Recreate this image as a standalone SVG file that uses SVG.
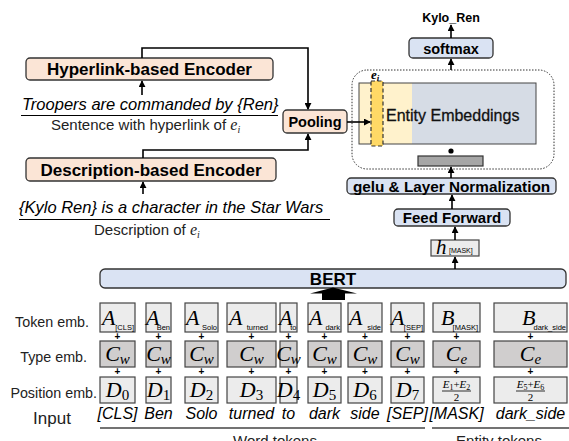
<svg xmlns="http://www.w3.org/2000/svg" width="569" height="441" viewBox="0 0 569 441">
<defs>
<marker id="ah" viewBox="0 0 8 8" refX="7" refY="4" markerWidth="7" markerHeight="7" markerUnits="userSpaceOnUse" orient="auto">
<path d="M0,0 L8,4 L0,8 z" fill="#000"/>
</marker>
</defs>
<style>
.sans{font-family:"Liberation Sans",Arial,sans-serif}
.b{font-weight:bold}
.it{font-style:italic}
.math{font-family:"Liberation Serif","Times New Roman",serif;font-style:italic}
.peach{fill:#fbe5d6;stroke:#333;stroke-width:1.3}
.blue{fill:#dae3f3;stroke:#333;stroke-width:1.3}
.tok{fill:#ececec;stroke:#444;stroke-width:1.2}
.typ{fill:#d0cece;stroke:#444;stroke-width:1.2}
.arr{fill:none;stroke:#000;stroke-width:1.6;marker-end:url(#ah)}
.lbl{font-family:"Liberation Sans",Arial,sans-serif;font-size:14.3px;fill:#222}
.plus{font-family:"Liberation Sans",Arial,sans-serif;font-size:10px;font-weight:bold;text-anchor:middle}
.A{font-family:"Liberation Serif",serif;font-style:italic;font-size:22px}
.sub{font-family:"Liberation Sans",Arial,sans-serif;font-size:7.5px;text-anchor:end}
.C{font-family:"Liberation Serif",serif;font-style:italic;font-size:22px;text-anchor:middle}
.inp{font-family:"Liberation Sans",Arial,sans-serif;font-style:italic;font-size:16px;text-anchor:middle}
</style>

<g id="hyperlink-encoder">
<rect class="peach" x="26" y="58" width="247" height="22" rx="4"/>
<text class="sans b" x="149.5" y="75" font-size="17" text-anchor="middle">Hyperlink-based Encoder</text>
</g>
<g id="hyperlink-sentence">
<text class="sans it" x="22" y="110" font-size="16.5">Troopers are commanded by {Ren}</text>
<line x1="21" y1="115.5" x2="278" y2="115.5" stroke="#000" stroke-width="1.2"/>
<text class="sans" x="51" y="130" font-size="15" fill="#222">Sentence with hyperlink of <tspan class="math" font-size="16">e</tspan><tspan class="math" font-size="10" dy="3">i</tspan></text>
</g>
<g id="description-encoder">
<rect class="peach" x="26" y="158" width="250" height="23" rx="4"/>
<text class="sans b" x="151" y="175.5" font-size="17" text-anchor="middle">Description-based Encoder</text>
</g>
<g id="description-sentence">
<text class="sans it" x="19" y="213" font-size="16.5">{Kylo Ren} is a character in the Star Wars</text>
<line x1="19" y1="219.5" x2="330" y2="219.5" stroke="#000" stroke-width="1.2"/>
<text class="sans" x="94" y="235" font-size="15" fill="#222">Description of <tspan class="math" font-size="16">e</tspan><tspan class="math" font-size="10" dy="3">i</tspan></text>
</g>
<g id="pooling">
<rect class="peach" x="283" y="110" width="64" height="23" rx="4"/>
<text class="sans b" x="315" y="127" font-size="14.5" text-anchor="middle">Pooling</text>
</g>

<g id="entity-embeddings">
<rect x="352" y="70" width="202" height="99" rx="15" fill="none" stroke="#333" stroke-width="1" stroke-dasharray="1.5,1.5"/>
<rect x="359" y="83" width="53" height="61" fill="#fff2cc"/>
<rect x="412" y="83" width="124" height="61" fill="#d6dce5"/>
<rect x="359" y="83" width="177" height="61" fill="none" stroke="#444" stroke-width="1"/>
<rect x="371" y="81" width="12" height="65" fill="#ffd966" stroke="#333" stroke-width="1.2" stroke-dasharray="4,2.5"/>
<text x="371" y="79" font-family="Liberation Serif,serif" font-style="italic" font-weight="bold" font-size="13">e<tspan font-size="9" dy="2">i</tspan></text>
<text class="sans" x="386" y="121" font-size="16" fill="#111" stroke="#111" stroke-width="0.3">Entity Embeddings</text>
<circle cx="451" cy="151" r="2.6" fill="#000"/>
<rect x="418" y="156" width="65" height="10" fill="#a6a6a6" stroke="#333" stroke-width="1.2"/>
</g>

<g id="softmax">
<rect class="blue" x="409" y="38" width="84" height="20" rx="4"/>
<text class="sans b" x="451" y="53.5" font-size="14.5" text-anchor="middle">softmax</text>
</g>
<g id="output">
<text class="sans b" x="451" y="22" font-size="12.5" text-anchor="middle">Kylo_Ren</text>
</g>
<g id="gelu-layernorm">
<rect class="blue" x="347" y="178" width="209" height="16" rx="4"/>
<text class="sans b" x="451.5" y="191.5" font-size="15.3" text-anchor="middle">gelu &amp; Layer Normalization</text>
</g>
<g id="feed-forward">
<rect class="blue" x="394" y="209" width="116" height="17" rx="4"/>
<text class="sans b" x="452" y="223" font-size="15" text-anchor="middle">Feed Forward</text>
</g>
<g id="h-mask">
<rect class="tok" x="431" y="240" width="48" height="16"/>
<text x="436" y="254" font-family="Liberation Serif,serif" font-style="italic" font-size="21">h</text>
<text x="449" y="253" class="sans" font-size="7">[MASK]</text>
</g>

<g id="bert">
<rect class="blue" x="100" y="269" width="466" height="19" rx="5"/>
<text class="sans b" x="333" y="285" font-size="17" text-anchor="middle">BERT</text>
<polygon points="310,293.5 333,287.5 357,293.5 345,293.5 345,300 322,300 322,293.5" fill="#000"/>
</g>

<g id="row-labels">
<text class="lbl" x="89" y="327" text-anchor="end">Token emb.</text>
<text class="lbl" x="87" y="362" text-anchor="end">Type emb.</text>
<text class="lbl" x="97" y="398" text-anchor="end">Position emb.</text>
<text class="sans" x="52" y="424" font-size="17" text-anchor="middle" fill="#222">Input</text>
</g>

<g id="col-cls">
<rect class="tok" x="100" y="303" width="35" height="29"/><text class="A" x="102" y="325">A</text><text class="sub" x="134" y="330">[CLS]</text>
<rect class="typ" x="100" y="341" width="35" height="26"/><text class="C" x="117.5" y="361">C<tspan font-size="15" dy="3">w</tspan></text>
<rect class="tok" x="100" y="377" width="35" height="26"/><text class="C" x="117.5" y="397">D<tspan font-family="Liberation Serif,serif" font-style="normal" font-size="15" dy="3">0</tspan></text>
<text class="plus" x="117.5" y="340">+</text><text class="plus" x="117.5" y="375">+</text>
<text class="inp" x="117.5" y="419">[CLS]</text>
</g>
<g id="col-ben">
<rect class="tok" x="146" y="303" width="25" height="29"/><text class="A" x="146" y="325">A</text><text class="sub" x="170" y="330">Ben</text>
<rect class="typ" x="146" y="341" width="25" height="26"/><text class="C" x="158.5" y="361">C<tspan font-size="15" dy="3">w</tspan></text>
<rect class="tok" x="146" y="377" width="25" height="26"/><text class="C" x="158.5" y="397">D<tspan font-family="Liberation Serif,serif" font-style="normal" font-size="15" dy="3">1</tspan></text>
<text class="plus" x="158.5" y="340">+</text><text class="plus" x="158.5" y="375">+</text>
<text class="inp" x="158.5" y="419">Ben</text>
</g>
<g id="col-solo">
<rect class="tok" x="185" y="303" width="33" height="29"/><text class="A" x="186" y="325">A</text><text class="sub" x="217" y="330">Solo</text>
<rect class="typ" x="185" y="341" width="33" height="26"/><text class="C" x="201.5" y="361">C<tspan font-size="15" dy="3">w</tspan></text>
<rect class="tok" x="185" y="377" width="33" height="26"/><text class="C" x="201.5" y="397">D<tspan font-family="Liberation Serif,serif" font-style="normal" font-size="15" dy="3">2</tspan></text>
<text class="plus" x="201.5" y="340">+</text><text class="plus" x="201.5" y="375">+</text>
<text class="inp" x="201.5" y="419">Solo</text>
</g>
<g id="col-turned">
<rect class="tok" x="227" y="303" width="49" height="29"/><text class="A" x="229" y="325">A</text><text class="sub" x="268" y="330">turned</text>
<rect class="typ" x="227" y="341" width="49" height="26"/><text class="C" x="251.5" y="361">C<tspan font-size="15" dy="3">w</tspan></text>
<rect class="tok" x="227" y="377" width="49" height="26"/><text class="C" x="251.5" y="397">D<tspan font-family="Liberation Serif,serif" font-style="normal" font-size="15" dy="3">3</tspan></text>
<text class="plus" x="251.5" y="340">+</text><text class="plus" x="251.5" y="375">+</text>
<text class="inp" x="251.5" y="419">turned</text>
</g>
<g id="col-to">
<rect class="tok" x="280" y="303" width="17" height="29"/><text class="A" x="279" y="325">A</text><text class="sub" x="296.5" y="330">to</text>
<rect class="typ" x="280" y="341" width="17" height="26"/><text class="C" x="288.5" y="361">C<tspan font-size="15" dy="3">w</tspan></text>
<rect class="tok" x="280" y="377" width="17" height="26"/><text class="C" x="288.5" y="397">D<tspan font-family="Liberation Serif,serif" font-style="normal" font-size="15" dy="3">4</tspan></text>
<text class="plus" x="288.5" y="340">+</text><text class="plus" x="288.5" y="375">+</text>
<text class="inp" x="288.5" y="419">to</text>
</g>
<g id="col-dark">
<rect class="tok" x="308" y="303" width="33" height="29"/><text class="A" x="309" y="325">A</text><text class="sub" x="340" y="330">dark</text>
<rect class="typ" x="308" y="341" width="33" height="26"/><text class="C" x="324.5" y="361">C<tspan font-size="15" dy="3">w</tspan></text>
<rect class="tok" x="308" y="377" width="33" height="26"/><text class="C" x="324.5" y="397">D<tspan font-family="Liberation Serif,serif" font-style="normal" font-size="15" dy="3">5</tspan></text>
<text class="plus" x="324.5" y="340">+</text><text class="plus" x="324.5" y="375">+</text>
<text class="inp" x="324.5" y="419">dark</text>
</g>
<g id="col-side">
<rect class="tok" x="348" y="303" width="34" height="29"/><text class="A" x="349" y="325">A</text><text class="sub" x="381" y="330">side</text>
<rect class="typ" x="348" y="341" width="34" height="26"/><text class="C" x="365" y="361">C<tspan font-size="15" dy="3">w</tspan></text>
<rect class="tok" x="348" y="377" width="34" height="26"/><text class="C" x="365" y="397">D<tspan font-family="Liberation Serif,serif" font-style="normal" font-size="15" dy="3">6</tspan></text>
<text class="plus" x="365" y="340">+</text><text class="plus" x="365" y="375">+</text>
<text class="inp" x="365" y="419">side</text>
</g>
<g id="col-sep">
<rect class="tok" x="391" y="303" width="33" height="29"/><text class="A" x="391" y="325">A</text><text class="sub" x="423" y="330">[SEP]</text>
<rect class="typ" x="391" y="341" width="33" height="26"/><text class="C" x="407.5" y="361">C<tspan font-size="15" dy="3">w</tspan></text>
<rect class="tok" x="391" y="377" width="33" height="26"/><text class="C" x="407.5" y="397">D<tspan font-family="Liberation Serif,serif" font-style="normal" font-size="15" dy="3">7</tspan></text>
<text class="plus" x="407.5" y="340">+</text><text class="plus" x="407.5" y="375">+</text>
<text class="inp" x="407.5" y="419">[SEP]</text>
</g>
<g id="col-mask">
<rect class="tok" x="433" y="303" width="47" height="29"/><text class="A" x="441" y="325">B</text><text class="sub" x="478" y="330">[MASK]</text>
<rect class="typ" x="433" y="341" width="47" height="26"/><text class="C" x="456.5" y="361">C<tspan font-size="15" dy="3">e</tspan></text>
<rect class="tok" x="433" y="377" width="47" height="26"/>
<text class="math" x="456.5" y="388" font-size="11" text-anchor="middle">E<tspan font-size="8" font-style="normal" dy="2">1</tspan><tspan font-style="normal" dy="-2">+</tspan>E<tspan font-size="8" font-style="normal" dy="2">2</tspan></text>
<line x1="442" y1="391" x2="471" y2="391" stroke="#000" stroke-width="0.8"/>
<text x="456.5" y="401" font-family="Liberation Serif,serif" font-size="11" text-anchor="middle">2</text>
<text class="plus" x="456.5" y="340">+</text><text class="plus" x="456.5" y="375">+</text>
<text class="inp" x="456.5" y="419">[MASK]</text>
</g>
<g id="col-darkside">
<rect class="tok" x="494" y="303" width="73" height="29"/><text class="A" x="522" y="325">B</text><text class="sub" x="566" y="330">dark_side</text>
<rect class="typ" x="494" y="341" width="73" height="26"/><text class="C" x="530.5" y="361">C<tspan font-size="15" dy="3">e</tspan></text>
<rect class="tok" x="494" y="377" width="73" height="26"/>
<text class="math" x="530.5" y="388" font-size="11" text-anchor="middle">E<tspan font-size="8" font-style="normal" dy="2">5</tspan><tspan font-style="normal" dy="-2">+</tspan>E<tspan font-size="8" font-style="normal" dy="2">6</tspan></text>
<line x1="516" y1="391" x2="545" y2="391" stroke="#000" stroke-width="0.8"/>
<text x="530.5" y="401" font-family="Liberation Serif,serif" font-size="11" text-anchor="middle">2</text>
<text class="plus" x="530.5" y="340">+</text><text class="plus" x="530.5" y="375">+</text>
<text class="inp" x="530.5" y="419">dark_side</text>
</g>

<g id="token-groups">
<line x1="100" y1="428" x2="425" y2="428" stroke="#444" stroke-width="1.5"/>
<text class="sans" x="275" y="446" font-size="15" text-anchor="middle" fill="#222">Word tokens</text>
<line x1="432" y1="428" x2="569" y2="428" stroke="#444" stroke-width="1.5"/>
<text class="sans" x="499" y="446" font-size="15" text-anchor="middle" fill="#222">Entity tokens</text>
</g>

<g id="connectors">
<path class="arr" d="M142,95 L142,81"/>
<path class="arr" d="M143,194 L143,182"/>
<path class="arr" d="M142,58 L142,48 L308,48 L308,109"/>
<path class="arr" d="M143,158 L143,150 L308,150 L308,134"/>
<path class="arr" d="M347,122 L370,122"/>
<path class="arr" d="M451,70 L451,59"/>
<path class="arr" d="M451,38 L451,25"/>
<path class="arr" d="M451,178 L451,167"/>
<path class="arr" d="M452,209 L452,195"/>
<path class="arr" d="M455,240 L455,227"/>
<path class="arr" d="M455,269 L455,257"/>
</g>
</svg>
